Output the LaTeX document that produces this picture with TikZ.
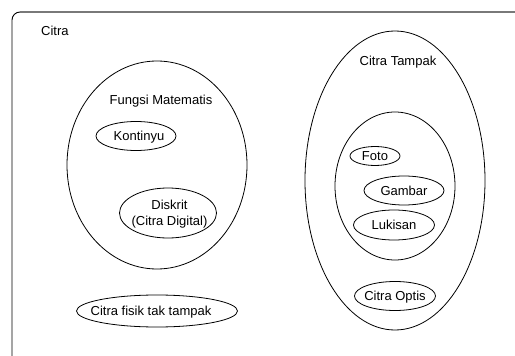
\documentclass[tikz,border=0pt]{standalone}
\usepackage{fontspec}
\setmainfont{Liberation Sans}
\usetikzlibrary{shapes.geometric}
% #1 vertical raise, #2 horizontal offset, #3 text
\newcommand{\zerobox}[3][-4.7pt]{\smash{\makebox[0pt]{\hspace*{#2}\hspace*{#2}\raisebox{#1}{\begin{tabular}{@{}c@{}}#3\end{tabular}}}}}
\begin{document}
\begin{tikzpicture}[x=1pt,y=-1pt,
  lbl/.style={font=\fontsize{13}{15}\selectfont, inner sep=0pt},
  ell/.style={draw=black, line width=0.8pt, ellipse, inner sep=0pt, font=\fontsize{13}{15}\selectfont}]
\useasboundingbox (0,0) rectangle (515,356);
% outer frame (only top and left edges visible)
\coordinate (frameBL) at (12,356);
\coordinate (frameTR) at (515,12);
\draw[black, line width=0.9pt] (frameBL) -- (12,20) arc[start angle=180, end angle=270, radius=8];
\draw[gray!95!black, line width=1.5pt] (20,12) -- (frameTR);
\node[lbl, anchor=west] (citra) at (41,31) {Citra};
% left group
\node[ell, minimum width=180, minimum height=208] (fungsi) at (157,165) {};
\node[lbl] (fungsilbl) at (161,101) {Fungsi Matematis};
\node[ell, minimum width=80, minimum height=29] (kontinyu) at (136,136) {\zerobox{3pt}{Kontinyu}};
\node[ell, minimum width=97, minimum height=50] (diskrit) at (168,213) {\zerobox[-4pt]{1.5pt}{Diskrit\\[1pt](Citra Digital)}};
\node[ell, minimum width=161, minimum height=32] (fisik) at (157,311) {\zerobox{-6pt}{Citra fisik tak tampak}};
% right group
\node[ell, minimum width=180, minimum height=299] (tampak) at (395,180.5) {};
\node[lbl] (tampaklbl) at (398,62) {Citra Tampak};
\node[ell, minimum width=120, minimum height=148] (inner) at (395,186) {};
\node[ell, minimum width=50, minimum height=19] (foto) at (375,156) {\zerobox{0pt}{Foto}};
\node[ell, minimum width=80, minimum height=29] (gambar) at (404,190.5) {\zerobox{0pt}{Gambar}};
\node[ell, minimum width=81, minimum height=30] (lukisan) at (394,225) {\zerobox{0pt}{Lukisan}};
\node[ell, minimum width=81, minimum height=29] (optis) at (395,296) {\zerobox{0pt}{Citra Optis}};
\end{tikzpicture}
\end{document}
